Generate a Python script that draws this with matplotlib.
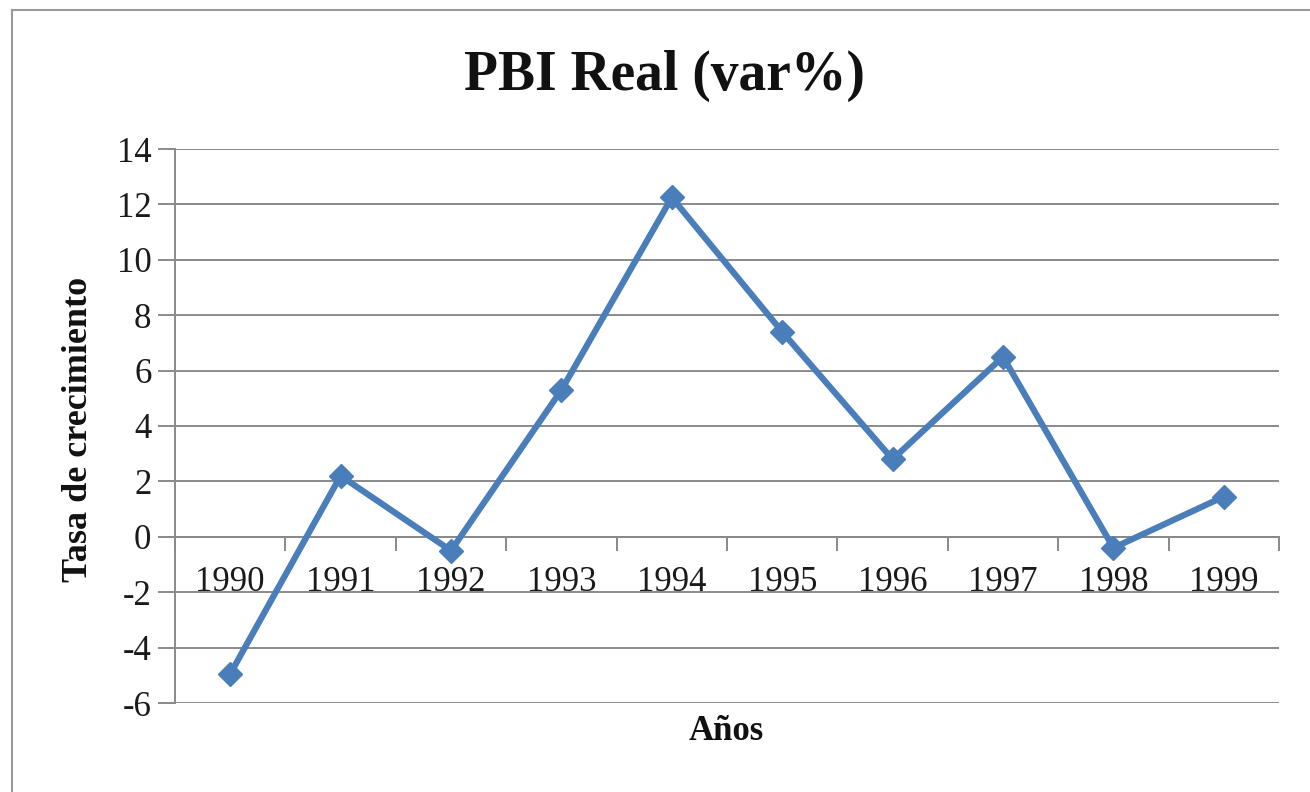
import numpy as np
import matplotlib.pyplot as plt
from matplotlib.lines import Line2D

# data
years = ["1990", "1991", "1992", "1993", "1994", "1995", "1996", "1997", "1998", "1999"]
growth = [-4.95, 2.2, -0.5, 5.3, 12.25, 7.4, 2.8, 6.5, -0.4, 1.45]
y_ticks = [-6, -4, -2, 0, 2, 4, 6, 8, 10, 12, 14]

SERIF = ["Liberation Serif", "DejaVu Serif"]
LINE_BLUE = "#4a7ebb"
GRID_GRAY = "#8a8a8a"
W, H = 1310, 792

plt.rcParams["font.family"] = SERIF

fig = plt.figure(figsize=(W / 100, H / 100), dpi=100)
fig.patch.set_facecolor("white")

# outer chart frame (Excel style), runs past right/bottom edge
fig.add_artist(Line2D([12 / W, 12 / W], [1 - 10 / H, 0], color="#9a9a9a", lw=1.5))
fig.add_artist(Line2D([12 / W, 1], [1 - 10 / H, 1 - 10 / H], color="#9a9a9a", lw=1.5))

ax = fig.add_axes([175 / W, 1 - 703 / H, (1279 - 175) / W, (703 - 149) / H])
x = np.arange(len(years))
ax.plot(x, growth, color=LINE_BLUE, lw=4.5, marker="D", ms=12,
        solid_joinstyle="miter", zorder=5, clip_on=False)

ax.set_xlim(-0.5, len(years) - 0.5)
ax.set_ylim(-6, 14)
ax.set_yticks(y_ticks)
ax.set_yticklabels([str(v) for v in y_ticks])
ax.yaxis.grid(True, color=GRID_GRAY, lw=1.4)
ax.set_axisbelow(True)
ax.tick_params(axis="y", length=12, width=1.4, color=GRID_GRAY, pad=5,
               labelsize=25, labelcolor="#1a1a1a")

for side in ["top", "right"]:
    ax.spines[side].set_visible(False)
ax.spines["left"].set_color(GRID_GRAY)
ax.spines["left"].set_linewidth(1.4)
# category axis crosses at zero
ax.spines["bottom"].set_position(("data", 0))
ax.spines["bottom"].set_color(GRID_GRAY)
ax.spines["bottom"].set_linewidth(1.4)

ax.set_xticks(np.arange(-0.5, len(years), 1.0))
ax.set_xticklabels([])
ax.tick_params(axis="x", which="major", length=10, width=1.4, color=GRID_GRAY,
               direction="out")
ax.set_xticks(x, minor=True)
ax.set_xticklabels(years, minor=True)
ax.tick_params(axis="x", which="minor", length=0, pad=21, labelsize=25,
               labelcolor="#1a1a1a")

fig.text(664 / W, 1 - 76 / H, "PBI Real (var%)", ha="center", va="center",
         fontsize=40, fontweight="bold", color="#111111")
fig.text(79 / W, 1 - 429 / H, "Tasa de crecimiento", ha="center", va="center",
         rotation=90, fontsize=26, fontweight="bold", color="#111111")
fig.text(726 / W, 1 - 731 / H, "Años", ha="center", va="center",
         fontsize=25, fontweight="bold", color="#111111")

fig.savefig("out.png", dpi=100)
